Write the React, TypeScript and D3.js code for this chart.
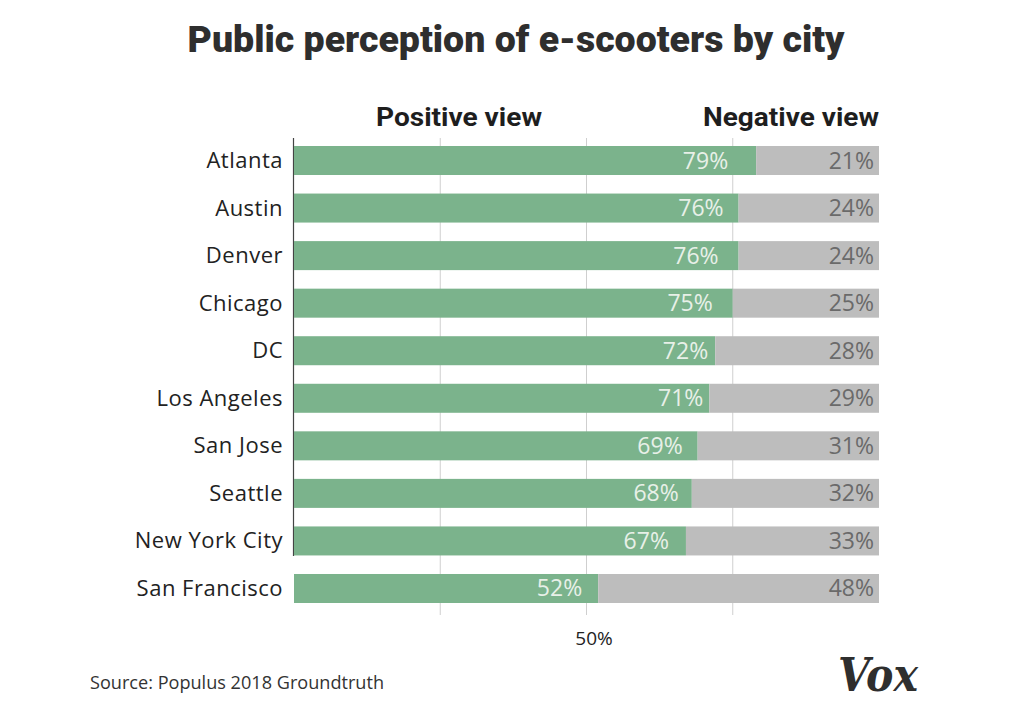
import React from "react";
import * as d3 from "d3";

const cities = ["Atlanta", "Austin", "Denver", "Chicago", "DC", "Los Angeles", "San Jose", "Seattle", "New York City", "San Francisco"];
const positive = [79, 76, 76, 75, 72, 71, 69, 68, 67, 52];
const negative = [21, 24, 24, 25, 28, 29, 31, 32, 33, 48];
const gridTicks = [25, 50, 75];
const axisLabel = "50%";
// label nudges (px) of the positive-share labels from the bar end, as in the original
const posLabelInset = [28, 15, 20, 20, 7, 6, 15, 13, 17, 16];

const W = 1017, H = 720;

export default function App() {
  const x = d3.scaleLinear().domain([0, 100]).range([294, 879]);
  const y = d3.scaleBand<string>().domain(cities).range([146, 603]).paddingInner(0.39).paddingOuter(0);
  const bw = y.bandwidth();
  const green = "#7bb38c";
  const grey = "#bdbdbd";
  const font = "'Open Sans', sans-serif";
  return (
    <svg width={W} height={H} style={{ position: "absolute", left: 0, top: 0, background: "#fff" }}>
      <rect width={W} height={H} fill="#fff" />
      <text x={516} y={52} textAnchor="middle" fontFamily="Roboto, 'Liberation Sans Narrow', sans-serif" fontWeight={900} fontSize={37} fill="#2e2e2e" textLength={657} lengthAdjust="spacingAndGlyphs">Public perception of e-scooters by city</text>
      <text x={459} y={126} textAnchor="middle" fontFamily="Roboto, sans-serif" fontWeight={700} fontSize={25} fill="#1e1e1e" textLength={166} lengthAdjust="spacingAndGlyphs">Positive view</text>
      <text x={879} y={126} textAnchor="end" fontFamily="Roboto, sans-serif" fontWeight={700} fontSize={25} fill="#1e1e1e" textLength={176} lengthAdjust="spacingAndGlyphs">Negative view</text>
      {gridTicks.map(t => (
        <line key={t} x1={x(t)} x2={x(t)} y1={138} y2={615} stroke="#cfcfcf" strokeWidth={1} />
      ))}
      <line x1={293.5} x2={293.5} y1={138} y2={556} stroke="#444" strokeWidth={1.2} />
      {cities.map((c, i) => {
        const y0 = y(c)!;
        const cy = y0 + bw / 2;
        return (
          <g key={c}>
            <rect x={x(0)} y={y0} width={x(positive[i]) - x(0)} height={bw} fill={green} />
            <rect x={x(positive[i])} y={y0} width={x(100) - x(positive[i])} height={bw} fill={grey} />
            <text x={x(positive[i]) - posLabelInset[i]} y={cy + 8} textAnchor="end" fontFamily={font} fontWeight={500} fontSize={23} fill="#e8f0e8">{positive[i]}%</text>
            <text x={x(100) - 5} y={cy + 8} textAnchor="end" fontFamily={font} fontWeight={500} fontSize={23} fill="#6a6a6a">{negative[i]}%</text>
            <text x={283} y={cy + 7.5} textAnchor="end" fontFamily={font} fontSize={22} letterSpacing={0.5} fill="#222">{c}</text>
          </g>
        );
      })}
      <text x={594} y={645} textAnchor="middle" fontFamily={font} fontSize={19} fill="#222">{axisLabel}</text>
      <text x={90} y={689} fontFamily={font} fontSize={18} fill="#333" textLength={294} lengthAdjust="spacingAndGlyphs">Source: Populus 2018 Groundtruth</text>
      <text x={838} y={691} fontFamily="'DejaVu Serif', 'Liberation Serif', serif" fontWeight={700} fontStyle="italic" fontSize={46} fill="#2e2e2e" textLength={80} lengthAdjust="spacingAndGlyphs">Vox</text>
    </svg>
  );
}
